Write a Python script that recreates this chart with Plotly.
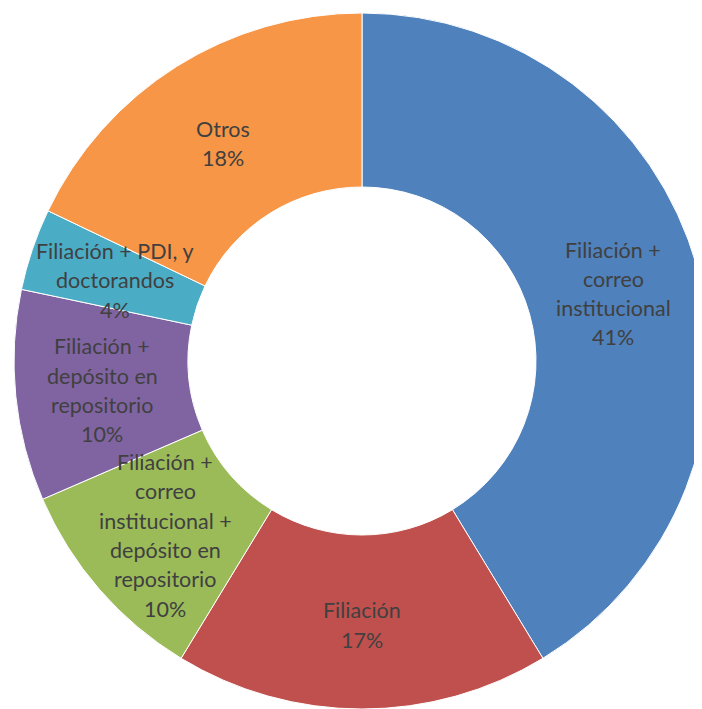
import math
import plotly.graph_objects as go

# ---- data ----
categories = [
    "Filiación + correo institucional",
    "Filiación",
    "Filiación + correo institucional + depósito en repositorio",
    "Filiación + depósito en repositorio",
    "Filiación + PDI, y doctorandos",
    "Otros",
]
label_lines = [
    ["Filiación +", "correo", "institucional"],
    ["Filiación"],
    ["Filiación +", "correo", "institucional +", "depósito en", "repositorio"],
    ["Filiación +", "depósito en", "repositorio"],
    ["Filiación + PDI, y", "doctorandos"],
    ["Otros"],
]
values = [41.3, 17.4, 9.8, 9.8, 3.8, 17.9]
colors = ["#4F81BD", "#C0504D", "#9BBB59", "#8064A2", "#4BACC6", "#F79646"]

# ---- layout constants ----
W, H = 702, 709
ML, MR, MT, MB = 6, 0, 5, 8
HOLE = 0.5
FONT = "Lato, Calibri, sans-serif"
FSIZE = 21.5
LINE_H = 29.3
TEXT_DROP = 3
TXT = "#404040"

pw, ph = W - ML - MR, H - MT - MB
R = min(pw, ph) / 2
cx, cy = ML + pw / 2, MT + ph / 2
r_lab = R * (1 + HOLE) / 2

fig = go.Figure(go.Pie(
    labels=categories, values=values, sort=False, direction="clockwise",
    rotation=0, hole=HOLE, textinfo="none", hoverinfo="label+percent",
    marker=dict(colors=colors, line=dict(color="white", width=1)),
    showlegend=False,
))

total = sum(values)
cum = 0.0
annotations = []
for lines, v in zip(label_lines, values):
    mid = (cum + v / 2) / total
    cum += v
    th = 2 * math.pi * mid
    px = cx + r_lab * math.sin(th)
    py = cy - r_lab * math.cos(th)
    xp = (px - ML) / pw
    yp = 1 - (py - MT) / ph
    all_lines = lines + [f"{round(100 * v / total)}%"]
    n = len(all_lines)
    for i, t in enumerate(all_lines):
        annotations.append(dict(
            x=xp, y=yp, xref="paper", yref="paper", text=t, showarrow=False,
            xanchor="center", yanchor="middle",
            yshift=-(i - (n - 1) / 2) * LINE_H - TEXT_DROP,
            font=dict(family=FONT, size=FSIZE, color=TXT),
        ))

fig.update_layout(
    width=W, height=H, margin=dict(l=ML, r=MR, t=MT, b=MB),
    paper_bgcolor="white", plot_bgcolor="white",
    annotations=annotations,
)
fig.write_html("out.html")
